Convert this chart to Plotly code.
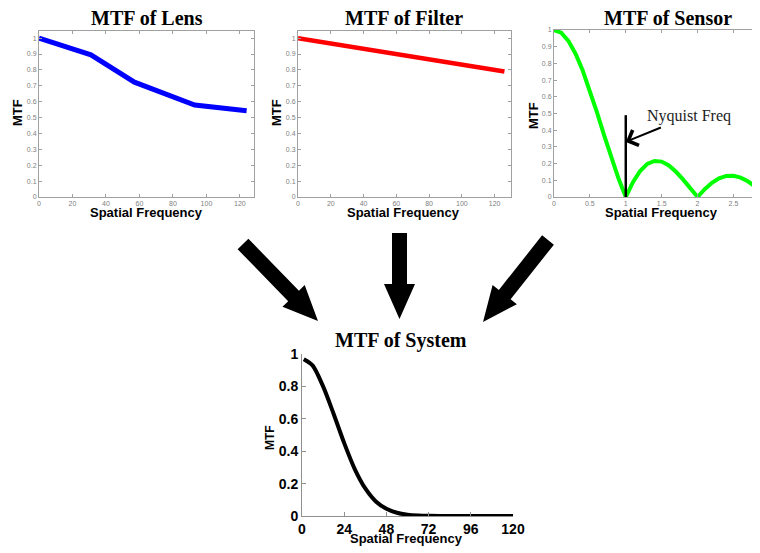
import math
import plotly.graph_objects as go

# page has an 8px body margin: the figure is drawn 8px in from the top-left
OFF = 8
W, H = 760 - OFF, 553 - OFF

# ---------------- data ----------------
lens_freq = [0, 31, 57, 93, 124]
lens_mtf = [1.0, 0.895, 0.723, 0.579, 0.543]

filter_freq = [0, 126]
filter_mtf = [1.0, 0.79]

sensor_freq = [0.0, 0.1, 0.2, 0.3, 0.4, 0.5, 0.6, 0.7, 0.8, 0.9, 1.0,
               1.1, 1.2, 1.3, 1.4, 1.5, 1.6, 1.7, 1.8, 1.9, 2.0,
               2.1, 2.2, 2.3, 2.4, 2.5, 2.6, 2.7, 2.8, 2.9, 3.0]
sensor_mtf = [1.0, 0.984, 0.935, 0.858, 0.757, 0.637, 0.505, 0.368, 0.234, 0.109, 0.0,
              0.089, 0.156, 0.198, 0.216, 0.212, 0.189, 0.151, 0.104, 0.052, 0.0,
              0.047, 0.085, 0.112, 0.126, 0.127, 0.116, 0.094, 0.067, 0.034, 0.0]

system_freq = [1, 6, 12, 18, 24, 30, 36, 42, 48, 54, 60, 66, 72, 84, 100, 120]
system_mtf = [0.968, 0.93, 0.80, 0.63, 0.45, 0.29, 0.17, 0.09, 0.045, 0.02, 0.008, 0.003, 0.001, 0.0, 0.0, 0.0]

lens_xticks = [0, 20, 40, 60, 80, 100, 120]
tenth_ticks = [0, 0.1, 0.2, 0.3, 0.4, 0.5, 0.6, 0.7, 0.8, 0.9, 1]
tenth_labels = ["0", "0.1", "0.2", "0.3", "0.4", "0.5", "0.6", "0.7", "0.8", "0.9", "1"]
sensor_xticks = [0, 0.5, 1, 1.5, 2, 2.5]
sensor_xlabels = ["0", "0.5", "1", "1.5", "2", "2.5"]
system_xticks = [0, 24, 48, 72, 96, 120]
system_yticks = [0, 0.2, 0.4, 0.6, 0.8, 1]
system_ylabels = ["0", "0.2", "0.4", "0.6", "0.8", "1"]


def px(x):
    return (x - OFF) / W


def py(y):
    return 1 - (y - OFF) / H


fig = go.Figure()
fig.add_trace(go.Scatter(x=lens_freq, y=lens_mtf, mode="lines",
                         line=dict(color="#0000ff", width=5), xaxis="x", yaxis="y"))
fig.add_trace(go.Scatter(x=filter_freq, y=filter_mtf, mode="lines",
                         line=dict(color="#ff0000", width=4.5), xaxis="x2", yaxis="y2"))
fig.add_trace(go.Scatter(x=sensor_freq, y=sensor_mtf, mode="lines",
                         line=dict(color="#00ff00", width=4), xaxis="x3", yaxis="y3"))
fig.add_trace(go.Scatter(x=system_freq, y=system_mtf, mode="lines",
                         line=dict(color="#000000", width=4, shape="spline", smoothing=0.8),
                         xaxis="x4", yaxis="y4"))

small_font = dict(size=7, color="#808080", family="Liberation Sans, Arial")
box = dict(showline=True, linecolor="#a0a0a0", linewidth=1, mirror="ticks",
           ticks="inside", ticklen=3, tickcolor="#a0a0a0", tickfont=small_font,
           showgrid=False, zeroline=False, fixedrange=True, automargin=False)
bold_tick = dict(size=14, color="black", family="Liberation Sans, Arial", weight="bold")

layout = dict(
    template="none",
    width=W, height=H, margin=dict(l=0, r=0, t=0, b=0, pad=0, autoexpand=False),
    paper_bgcolor="white", plot_bgcolor="white", showlegend=False,
    xaxis=dict(box, domain=[px(39), px(254)], range=[0, 128.4], tickvals=lens_xticks, anchor="y"),
    yaxis=dict(box, domain=[py(197), py(31)], range=[0, 1.045], tickvals=tenth_ticks,
               ticktext=tenth_labels, anchor="x"),
    xaxis2=dict(box, domain=[px(298), px(511)], range=[0, 130], tickvals=lens_xticks, anchor="y2"),
    yaxis2=dict(box, domain=[py(197), py(31)], range=[0, 1.045], tickvals=tenth_ticks,
                ticktext=tenth_labels, anchor="x2"),
    xaxis3=dict(box, domain=[px(554), 1], range=[0, 2.87], tickvals=sensor_xticks,
                ticktext=sensor_xlabels, anchor="y3"),
    yaxis3=dict(box, domain=[py(197), py(30)], range=[0, 1], tickvals=tenth_ticks,
                ticktext=tenth_labels, anchor="x3", mirror=False),
    xaxis4=dict(showline=True, linecolor="#909090", linewidth=1, ticks="inside", ticklen=4,
                tickcolor="#909090", showgrid=False, zeroline=False, domain=[px(302), px(513)],
                range=[0, 120], tickvals=system_xticks, anchor="y4", automargin=False,
                tickfont=bold_tick),
    yaxis4=dict(showline=True, linecolor="#909090", linewidth=1, ticks="inside", ticklen=4,
                tickcolor="#909090", showgrid=False, zeroline=False, domain=[py(516), py(354)],
                range=[0, 1], tickvals=system_yticks, ticktext=system_ylabels, anchor="x4",
                automargin=False, tickfont=bold_tick),
)
fig.update_layout(**layout)

serif_title = dict(family="Liberation Serif, Times New Roman", size=20, color="black", weight="bold")
sans_label = dict(family="Liberation Sans, Arial", size=13, color="black", weight="bold")

annots = []


def text(x, y, s, font, angle=0):
    annots.append(dict(x=px(x), y=py(y), xref="paper", yref="paper", text=s, showarrow=False,
                       font=font, textangle=angle, xanchor="center", yanchor="middle"))


text(147, 18, "MTF of Lens", serif_title)
text(404, 18, "MTF of Filter", serif_title)
text(668, 18, "MTF of Sensor", serif_title)
text(401, 340, "MTF of System", serif_title)
for cx in (146, 404, 661):
    text(cx, 213, "Spatial Frequency", sans_label)
text(406, 538, "Spatial Frequency", sans_label)
text(18, 113, "MTF", sans_label, -90)
text(277, 113, "MTF", sans_label, -90)
text(533, 116, "MTF", sans_label, -90)
text(270, 438, "MTF", dict(sans_label, size=12), -90)

# Nyquist annotation
annots.append(dict(x=1.88, y=0.485, xref="x3", yref="y3", text="Nyquist Freq", showarrow=False,
                   font=dict(family="Liberation Serif, Times New Roman", size=16, color="#222")))
annots.append(dict(x=1.0, y=0.33, xref="x3", yref="y3", ax=1.51, ay=0.42, axref="x3", ayref="y3",
                   text="", showarrow=True, arrowhead=4, arrowsize=1.6, arrowwidth=2, arrowcolor="black"))
fig.update_layout(annotations=annots)

shapes = [dict(type="line", xref="x3", yref="y3", x0=1, x1=1, y0=0, y1=0.49,
               line=dict(color="black", width=2.5))]


def arrow_path(x0, y0, x1, y1, sw=15, hw=31, hl=35):
    dx, dy = x1 - x0, y1 - y0
    L = math.hypot(dx, dy)
    ux, uy = dx / L, dy / L
    nx, ny = -uy, ux
    bx, by = x1 - ux * hl, y1 - uy * hl
    pts = [(x0 + nx * sw / 2, y0 + ny * sw / 2), (bx + nx * sw / 2, by + ny * sw / 2),
           (bx + nx * hw / 2, by + ny * hw / 2), (x1, y1),
           (bx - nx * hw / 2, by - ny * hw / 2), (bx - nx * sw / 2, by - ny * sw / 2),
           (x0 - nx * sw / 2, y0 - ny * sw / 2)]
    return "M " + " L ".join(f"{px(a):.5f},{py(b):.5f}" for a, b in pts) + " Z"


for (a, b, c, d) in [(243, 244, 318, 321), (399.5, 233, 399.5, 319), (548, 240, 483, 322)]:
    shapes.append(dict(type="path", xref="paper", yref="paper", path=arrow_path(a, b, c, d),
                       fillcolor="black", line=dict(color="black", width=0)))
fig.update_layout(shapes=shapes)

fig.write_html("out.html")
